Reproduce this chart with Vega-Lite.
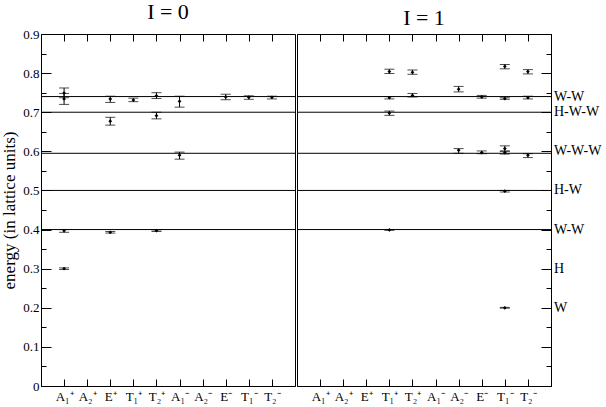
{
  "$schema": "https://vega.github.io/schema/vega-lite/v6.json",
  "padding": {"left": 0, "right": 0, "top": 0, "bottom": 0},
  "background": "white",
  "config": {
    "font": "Liberation Serif",
    "view": {"stroke": "black", "strokeWidth": 1},
    "concat": {"spacing": 0},
    "axis": {
      "labelFont": "Liberation Serif", "titleFont": "Liberation Serif",
      "domainColor": "black", "tickColor": "black", "labelColor": "black", "titleColor": "black",
      "grid": false, "labelFontSize": 13, "titleFontSize": 17, "titleFontWeight": "normal",
      "labelOverlap": false, "ticks": true, "tickWidth": 1, "tickOpacity": 1
    },
    "title": {"font": "Liberation Serif", "fontSize": 22, "fontWeight": "normal", "color": "black", "offset": 0}
  },
  "datasets": {
    "levels": [{"e": 0.74}, {"e": 0.7}, {"e": 0.595}, {"e": 0.5}, {"e": 0.4}],
    "rlabels": [
      {"t": "W-W", "e": 0.74}, {"t": "H-W-W", "e": 0.70}, {"t": "W-W-W", "e": 0.6},
      {"t": "H-W", "e": 0.5}, {"t": "W-W", "e": 0.4}, {"t": "H", "e": 0.3}, {"t": "W", "e": 0.2}
    ],
    "pts": [
      {"I": 0, "state": "A₁⁺", "e": 0.749, "lo": 0.737, "hi": 0.762},
      {"I": 0, "state": "A₁⁺", "e": 0.734, "lo": 0.720, "hi": 0.748},
      {"I": 0, "state": "A₁⁺", "e": 0.397, "lo": 0.393, "hi": 0.400},
      {"I": 0, "state": "A₁⁺", "e": 0.300, "lo": 0.298, "hi": 0.302},
      {"I": 0, "state": "E⁺", "e": 0.734, "lo": 0.725, "hi": 0.741},
      {"I": 0, "state": "E⁺", "e": 0.677, "lo": 0.667, "hi": 0.687},
      {"I": 0, "state": "E⁺", "e": 0.393, "lo": 0.391, "hi": 0.395},
      {"I": 0, "state": "T₁⁺", "e": 0.731, "lo": 0.727, "hi": 0.736},
      {"I": 0, "state": "T₂⁺", "e": 0.742, "lo": 0.735, "hi": 0.750},
      {"I": 0, "state": "T₂⁺", "e": 0.691, "lo": 0.683, "hi": 0.700},
      {"I": 0, "state": "T₂⁺", "e": 0.397, "lo": 0.395, "hi": 0.399},
      {"I": 0, "state": "A₁⁻", "e": 0.728, "lo": 0.713, "hi": 0.741},
      {"I": 0, "state": "A₁⁻", "e": 0.590, "lo": 0.580, "hi": 0.598},
      {"I": 0, "state": "E⁻", "e": 0.739, "lo": 0.732, "hi": 0.746},
      {"I": 0, "state": "T₁⁻", "e": 0.738, "lo": 0.733, "hi": 0.742},
      {"I": 0, "state": "T₂⁻", "e": 0.738, "lo": 0.734, "hi": 0.741},
      {"I": 1, "state": "T₁⁺", "e": 0.804, "lo": 0.799, "hi": 0.810},
      {"I": 1, "state": "T₁⁺", "e": 0.737, "lo": 0.734, "hi": 0.740},
      {"I": 1, "state": "T₁⁺", "e": 0.698, "lo": 0.692, "hi": 0.703},
      {"I": 1, "state": "T₁⁺", "e": 0.399, "lo": 0.398, "hi": 0.400},
      {"I": 1, "state": "T₂⁺", "e": 0.802, "lo": 0.797, "hi": 0.808},
      {"I": 1, "state": "T₂⁺", "e": 0.743, "lo": 0.739, "hi": 0.748},
      {"I": 1, "state": "A₂⁻", "e": 0.759, "lo": 0.752, "hi": 0.766},
      {"I": 1, "state": "A₂⁻", "e": 0.603, "lo": 0.595, "hi": 0.607},
      {"I": 1, "state": "E⁻", "e": 0.739, "lo": 0.736, "hi": 0.743},
      {"I": 1, "state": "E⁻", "e": 0.597, "lo": 0.594, "hi": 0.601},
      {"I": 1, "state": "T₁⁻", "e": 0.817, "lo": 0.811, "hi": 0.822},
      {"I": 1, "state": "T₁⁻", "e": 0.735, "lo": 0.733, "hi": 0.737},
      {"I": 1, "state": "T₁⁻", "e": 0.607, "lo": 0.601, "hi": 0.614},
      {"I": 1, "state": "T₁⁻", "e": 0.597, "lo": 0.593, "hi": 0.600},
      {"I": 1, "state": "T₁⁻", "e": 0.498, "lo": 0.496, "hi": 0.500},
      {"I": 1, "state": "T₁⁻", "e": 0.200, "lo": 0.199, "hi": 0.201},
      {"I": 1, "state": "T₂⁻", "e": 0.804, "lo": 0.798, "hi": 0.809},
      {"I": 1, "state": "T₂⁻", "e": 0.737, "lo": 0.734, "hi": 0.741},
      {"I": 1, "state": "T₂⁻", "e": 0.590, "lo": 0.584, "hi": 0.594}
    ]
  },
  "hconcat": [
    {
      "width": 254, "height": 352,
      "title": {"text": "I = 0"},
      "resolve": {"axis": {"x": "independent", "y": "independent"}},
      "layer": [
        {
          "data": {"name": "pts"}, "transform": [{"filter": "datum.I == 0"}],
          "mark": {"type": "point", "shape": "diamond", "filled": true, "color": "black", "size": 14, "opacity": 1},
          "encoding": {
            "x": {"field": "state", "type": "nominal",
              "scale": {"type": "point", "padding": 1, "domain": ["A₁⁺", "A₂⁺", "E⁺", "T₁⁺", "T₂⁺", "A₁⁻", "A₂⁻", "E⁻", "T₁⁻", "T₂⁻"]},
              "axis": {"orient": "bottom", "title": null, "labelAngle": 0, "tickSize": -7, "labelPadding": 11}},
            "y": {"field": "e", "type": "quantitative",
              "scale": {"domain": [0, 0.9], "nice": false, "zero": false},
              "axis": {"orient": "left", "title": "energy (in lattice units)",
                "values": [0, 0.1, 0.2, 0.3, 0.4, 0.5, 0.6, 0.7, 0.8, 0.9],
                "format": "~g",
                "tickSize": -10,
                "labelPadding": 12}}
          }
        },
        {
          "data": {"name": "levels"},
          "mark": {"type": "rule", "color": "black", "strokeWidth": 1},
          "encoding": {
            "y": {"field": "e", "type": "quantitative",
              "axis": {"orient": "left", "title": null, "labels": false, "tickSize": -5, "domain": false, "maxExtent": 0,
                "values": [0.05, 0.15, 0.25, 0.35, 0.45, 0.55, 0.65, 0.75, 0.85]}}
          }
        },
        {
          "data": {"name": "pts"}, "transform": [{"filter": "datum.I == 0"}],
          "mark": {"type": "rule", "color": "black", "strokeWidth": 1},
          "encoding": {
            "x": {"field": "state", "type": "nominal", "axis": {"orient": "top", "title": null, "labels": false, "tickSize": -7, "maxExtent": 0, "minExtent": 0}},
            "y": {"field": "lo", "type": "quantitative", "axis": null},
            "y2": {"field": "hi"}
          }
        },
        {
          "data": {"name": "pts"}, "transform": [{"filter": "datum.I == 0"}],
          "mark": {"type": "tick", "color": "black", "size": 10, "thickness": 1},
          "encoding": {
            "x": {"field": "state", "type": "nominal", "axis": null},
            "y": {"field": "lo", "type": "quantitative", "axis": null}
          }
        },
        {
          "data": {"name": "pts"}, "transform": [{"filter": "datum.I == 0"}],
          "mark": {"type": "tick", "color": "black", "size": 10, "thickness": 1},
          "encoding": {
            "x": {"field": "state", "type": "nominal", "axis": null},
            "y": {"field": "hi", "type": "quantitative", "axis": null}
          }
        }
      ]
    },
    {
      "width": 254, "height": 352,
      "title": {"text": "I = 1"},
      "resolve": {"axis": {"x": "independent", "y": "independent"}},
      "layer": [
        {
          "data": {"name": "pts"}, "transform": [{"filter": "datum.I == 1"}],
          "mark": {"type": "point", "shape": "diamond", "filled": true, "color": "black", "size": 14, "opacity": 1},
          "encoding": {
            "x": {"field": "state", "type": "nominal",
              "scale": {"type": "point", "padding": 1, "domain": ["A₁⁺", "A₂⁺", "E⁺", "T₁⁺", "T₂⁺", "A₁⁻", "A₂⁻", "E⁻", "T₁⁻", "T₂⁻"]},
              "axis": {"orient": "bottom", "title": null, "labelAngle": 0, "tickSize": -7, "labelPadding": 11}},
            "y": {"field": "e", "type": "quantitative",
              "scale": {"domain": [0, 0.9], "nice": false, "zero": false},
              "axis": {"orient": "right", "title": null, "labels": false, "maxExtent": 0,
                "values": [0, 0.1, 0.2, 0.3, 0.4, 0.5, 0.6, 0.7, 0.8, 0.9],
                "tickSize": -10}}
          }
        },
        {
          "data": {"name": "levels"},
          "mark": {"type": "rule", "color": "black", "strokeWidth": 1},
          "encoding": {
            "y": {"field": "e", "type": "quantitative",
              "axis": {"orient": "right", "title": null, "labels": false, "tickSize": -5, "domain": false, "maxExtent": 0,
                "values": [0.05, 0.15, 0.25, 0.35, 0.45, 0.55, 0.65, 0.75, 0.85]}}
          }
        },
        {
          "data": {"name": "pts"}, "transform": [{"filter": "datum.I == 1"}],
          "mark": {"type": "rule", "color": "black", "strokeWidth": 1},
          "encoding": {
            "x": {"field": "state", "type": "nominal", "axis": {"orient": "top", "title": null, "labels": false, "tickSize": -7, "maxExtent": 0, "minExtent": 0}},
            "y": {"field": "lo", "type": "quantitative", "axis": null},
            "y2": {"field": "hi"}
          }
        },
        {
          "data": {"name": "pts"}, "transform": [{"filter": "datum.I == 1"}],
          "mark": {"type": "tick", "color": "black", "size": 10, "thickness": 1},
          "encoding": {
            "x": {"field": "state", "type": "nominal", "axis": null},
            "y": {"field": "lo", "type": "quantitative", "axis": null}
          }
        },
        {
          "data": {"name": "pts"}, "transform": [{"filter": "datum.I == 1"}],
          "mark": {"type": "tick", "color": "black", "size": 10, "thickness": 1},
          "encoding": {
            "x": {"field": "state", "type": "nominal", "axis": null},
            "y": {"field": "hi", "type": "quantitative", "axis": null}
          }
        },
        {
          "data": {"name": "rlabels"},
          "mark": {"type": "text", "align": "left", "baseline": "middle", "dx": 3, "font": "Liberation Serif", "fontSize": 14, "color": "black"},
          "encoding": {
            "x": {"value": "width"},
            "y": {"field": "e", "type": "quantitative", "axis": null},
            "text": {"field": "t"}
          }
        }
      ]
    }
  ]
}
